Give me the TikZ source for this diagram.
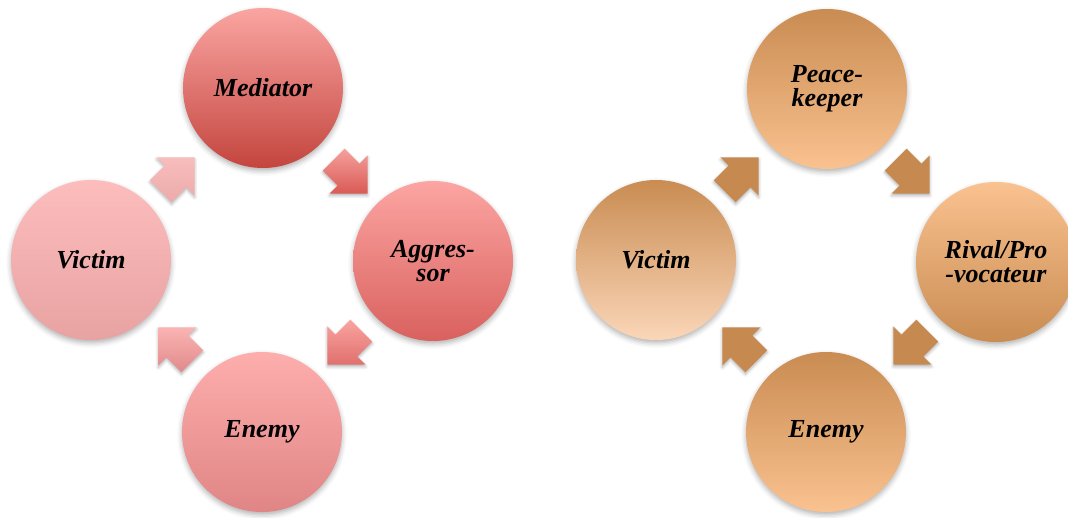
\documentclass[tikz,border=0pt]{standalone}
\usepackage{fontspec}
\setmainfont{Liberation Serif}
\usetikzlibrary{shadows.blur}
\definecolor{arrbrown}{HTML}{C68A50}
\definecolor{medT}{HTML}{FAA5A2}\definecolor{medB}{HTML}{C4453E}
\definecolor{aggT}{HTML}{FCA5A2}\definecolor{aggB}{HTML}{D9615E}
\definecolor{enlT}{HTML}{FDAEAD}\definecolor{enlB}{HTML}{E08585}
\definecolor{vilT}{HTML}{FDBDBD}\definecolor{vilB}{HTML}{E8A2A2}
\definecolor{aoneT}{HTML}{F8BDBD}\definecolor{aoneB}{HTML}{EDAAAA}
\definecolor{atwoT}{HTML}{F6A09C}\definecolor{atwoB}{HTML}{D95A55}
\definecolor{athrT}{HTML}{FAA4A1}\definecolor{athrB}{HTML}{E0706D}
\definecolor{afouT}{HTML}{FAB4B3}\definecolor{afouB}{HTML}{E08A8A}
\definecolor{brD}{HTML}{C98C52}\definecolor{brL}{HTML}{FAC290}
\definecolor{brVL}{HTML}{FBD6B8}
\tikzset{
  role/.style={circle, minimum size=160pt, inner sep=0pt, align=center,
    font=\fontsize{26}{24}\selectfont\bfseries\itshape,
    blur shadow={shadow xshift=0pt, shadow yshift=-3pt, shadow blur radius=5pt, shadow opacity=30}},
  arrowshape/.style={blur shadow={shadow xshift=0pt, shadow yshift=-2pt, shadow blur radius=3pt, shadow opacity=30}},
  grad/.style 2 args={top color=#1, bottom color=#2}
}
\newcommand{\blockarr}[3]{%
  \begin{scope}[shift={(#1)}]
    \path[arrowshape,#3] ({#2+135.91}:22.28) -- ({#2+72.12}:16.29) -- ({#2+79.51}:27.46)
      -- (#2:32) -- ({#2-79.51}:27.46) -- ({#2-72.12}:16.29) -- ({#2-135.91}:22.28) -- cycle;
  \end{scope}}
\begin{document}
\begin{tikzpicture}[x=1pt,y=-1pt]
\useasboundingbox (0,0) rectangle (1068,518);
% left cycle
\node[role, grad={medT}{medB}] (med) at (263,88) {Mediator};
\node[role, grad={aggT}{aggB}] (agg) at (433,261) {Aggres-\\sor};
\node[role, grad={enlT}{enlB}] (en1) at (262,432) {Enemy};
\node[role, grad={vilT}{vilB}] (vic1) at (91,260) {Victim};
\coordinate (a1) at (172,180);
\coordinate (a2) at (345,171);
\coordinate (a3) at (350,342);
\coordinate (a4) at (181,350);
\blockarr{a1}{-45}{grad={aoneT}{aoneB}}
\blockarr{a2}{45}{grad={atwoT}{atwoB}}
\blockarr{a3}{135}{grad={athrT}{athrB}}
\blockarr{a4}{-135}{grad={afouT}{afouB}}
% right cycle
\node[role, grad={brD}{brL}] (peace) at (827,89) {Peace-\\keeper};
\node[role, grad={brL}{brD}] (rival) at (996,262) {Rival/Pro\\-vocateur};
\node[role, grad={brD}{brL}] (en2) at (826,432) {Enemy};
\node[role, grad={brD}{brVL}] (vic2) at (656,260) {Victim};
\coordinate (b1) at (736,180);
\coordinate (b2) at (907,171);
\coordinate (b3) at (916,342);
\coordinate (b4) at (745,350);
\blockarr{b1}{-45}{fill=arrbrown}
\blockarr{b2}{45}{fill=arrbrown}
\blockarr{b3}{135}{fill=arrbrown}
\blockarr{b4}{-135}{fill=arrbrown}
\end{tikzpicture}
\end{document}
